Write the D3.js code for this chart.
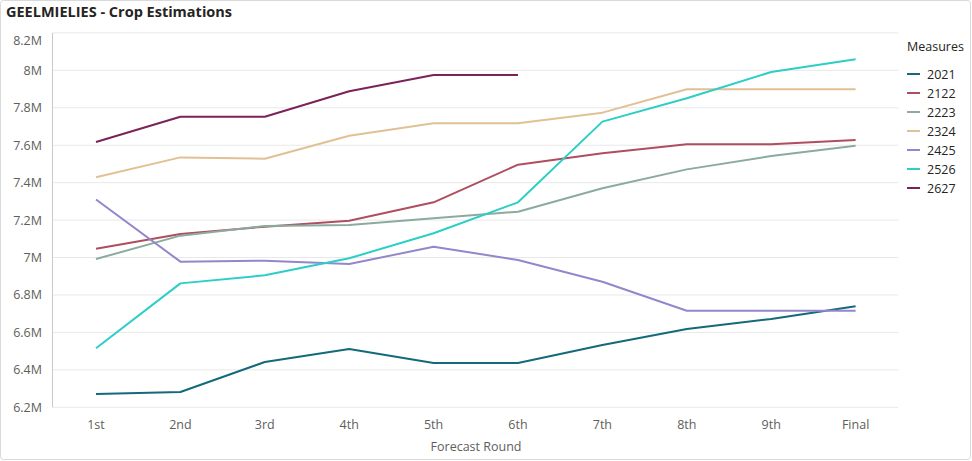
<!DOCTYPE html>
<html>
<head>
<meta charset="utf-8">
<script src="https://cdn.jsdelivr.net/npm/d3@7"></script>
<style>
  body { margin: 0; background: #fff; }
  svg { display: block; font-family: "Open Sans", "Noto Sans", sans-serif; }
</style>
</head>
<body>
<svg id="chart" width="972" height="461"></svg>
<script>
var rounds = ["1st", "2nd", "3rd", "4th", "5th", "6th", "7th", "8th", "9th", "Final"];
var seasons = ["2021", "2122", "2223", "2324", "2425", "2526", "2627"];
var colors = ["#14697A", "#AE4E5E", "#8AAB9E", "#E2C095", "#9486CB", "#2CCEC6", "#7B2358"];
var yTicks = [6.2e6, 6.4e6, 6.6e6, 6.8e6, 7e6, 7.2e6, 7.4e6, 7.6e6, 7.8e6, 8e6, 8.2e6];

// crop estimates (tons) per forecast round
var s2021 = [6.271e6, 6.282e6, 6.442e6, 6.512e6, 6.437e6, 6.437e6, 6.533e6, 6.618e6, 6.672e6, 6.740e6];
var s2122 = [7.047e6, 7.126e6, 7.165e6, 7.197e6, 7.295e6, 7.496e6, 7.557e6, 7.605e6, 7.605e6, 7.628e6];
var s2223 = [6.992e6, 7.117e6, 7.168e6, 7.174e6, 7.210e6, 7.245e6, 7.370e6, 7.471e6, 7.542e6, 7.597e6];
var s2324 = [7.429e6, 7.535e6, 7.528e6, 7.651e6, 7.717e6, 7.717e6, 7.774e6, 7.899e6, 7.899e6, 7.899e6];
var s2425 = [7.310e6, 6.978e6, 6.983e6, 6.965e6, 7.058e6, 6.987e6, 6.871e6, 6.716e6, 6.716e6, 6.716e6];
var s2526 = [6.515e6, 6.862e6, 6.905e6, 6.996e6, 7.130e6, 7.295e6, 7.726e6, 7.851e6, 7.991e6, 8.059e6];
var s2627 = [7.617e6, 7.752e6, 7.752e6, 7.888e6, 7.975e6, 7.975e6, null, null, null, null];

var allSeries = [s2021, s2122, s2223, s2324, s2425, s2526, s2627];

var svg = d3.select("#chart");
var textColor = "#605E5C";

// card border
svg.append("rect")
  .attr("x", 0.5).attr("y", 0.5)
  .attr("width", 970).attr("height", 459)
  .attr("rx", 3)
  .attr("fill", "#fff")
  .attr("stroke", "#D9D9D9");

svg.append("text")
  .attr("x", 6).attr("y", 17)
  .attr("font-size", 14.5)
  .attr("font-weight", "bold")
  .attr("fill", "#252423")
  .text("GEELMIELIES - Crop Estimations");

var x = d3.scalePoint().domain(rounds).range([53.8, 897.8]).padding(0.5);
var y = d3.scaleLinear().domain([6.2e6, 8.2e6]).range([407.3, 32.9]);

function fmt(v) {
  return d3.format("~g")(Math.round(v / 1e5) / 10) + "M";
}

// gridlines
svg.append("g")
  .selectAll("line")
  .data(yTicks)
  .join("line")
  .attr("x1", 53).attr("x2", 898)
  .attr("y1", function(d) { return y(d); })
  .attr("y2", function(d) { return y(d); })
  .attr("stroke", "#E8E8E8")
  .attr("stroke-width", 1);

// y axis line
svg.append("line")
  .attr("x1", 52.5).attr("x2", 52.5)
  .attr("y1", y(8.2e6)).attr("y2", y(6.2e6))
  .attr("stroke", "#C8C8C8");

// y tick labels
svg.append("g")
  .selectAll("text")
  .data(yTicks)
  .join("text")
  .attr("x", 42)
  .attr("y", function(d) { return Math.max(y(d), 40) + 4.5; })
  .attr("text-anchor", "end")
  .attr("font-size", 12.5)
  .attr("fill", textColor)
  .text(fmt);

// x tick labels
svg.append("g")
  .selectAll("text")
  .data(rounds)
  .join("text")
  .attr("x", function(d) { return x(d); })
  .attr("y", 429)
  .attr("text-anchor", "middle")
  .attr("font-size", 12.5)
  .attr("fill", textColor)
  .text(function(d) { return d; });

svg.append("text")
  .attr("x", 476).attr("y", 451)
  .attr("text-anchor", "middle")
  .attr("font-size", 12.5)
  .attr("fill", textColor)
  .text("Forecast Round");

// lines
var line = d3.line()
  .defined(function(d) { return d != null; })
  .x(function(d, i) { return x(rounds[i]); })
  .y(function(d) { return y(d); });

svg.append("g")
  .selectAll("path")
  .data(allSeries)
  .join("path")
  .attr("d", line)
  .attr("fill", "none")
  .attr("stroke", function(d, i) { return colors[i]; })
  .attr("stroke-width", 2)
  .attr("stroke-linejoin", "round");

// legend
var legend = svg.append("g").attr("transform", "translate(907,0)");
legend.append("text")
  .attr("x", 0).attr("y", 51)
  .attr("font-size", 12.5)
  .attr("fill", "#252423")
  .text("Measures");

var item = legend.selectAll("g.item")
  .data(seasons)
  .join("g")
  .attr("class", "item")
  .attr("transform", function(d, i) { return "translate(0," + (74 + i * 19) + ")"; });

item.append("line")
  .attr("x1", 0).attr("x2", 13)
  .attr("y1", 0).attr("y2", 0)
  .attr("stroke", function(d, i) { return colors[i]; })
  .attr("stroke-width", 2);

item.append("text")
  .attr("x", 20).attr("y", 4.5)
  .attr("font-size", 12.5)
  .attr("fill", "#252423")
  .text(function(d) { return d; });
</script>
</body>
</html>
